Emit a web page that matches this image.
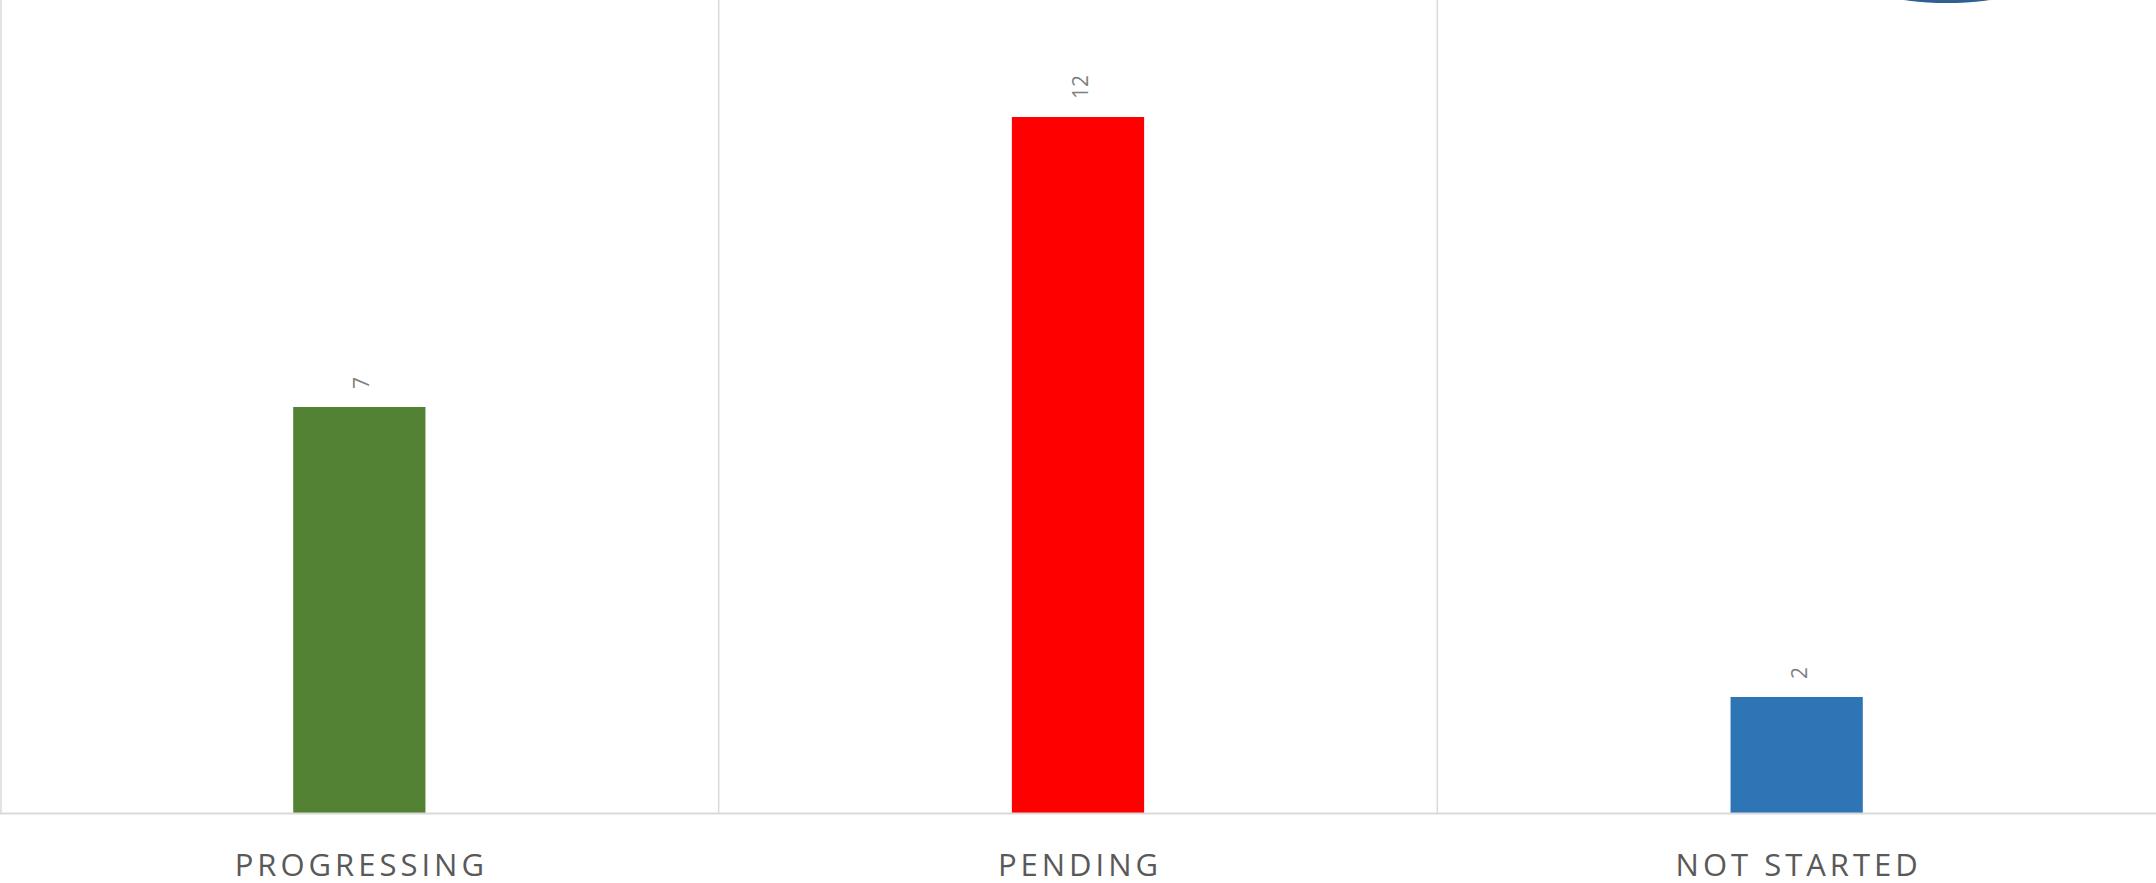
<!DOCTYPE html>
<html>
<head>
<meta charset="utf-8">
<script src="https://cdn.jsdelivr.net/npm/d3@7"></script>
<style>
  html, body { margin: 0; padding: 0; background: #fff; overflow: hidden; }
  .catText { font-family: "Open Sans", sans-serif; fill: #595959; }
  .valText { font-family: "Open Sans", sans-serif; fill: #7f7f7f; }
</style>
</head>
<body>
<div id="chart"></div>
<script>
// chart data
const categories = ["PROGRESSING", "PENDING", "NOT STARTED"]
const values = [7, 12, 2]
const barColors = ["#548235", "#ff0000", "#2e75b6"]
const yMax = 14

const width = 2156
const height = 883
const plotTop = 1
const plotBottom = 813

// creat canvas
const svg = d3
  .select("#chart")
  .append("svg")
  .attr("width", width)
  .attr("height", height)

const xScale = d3
  .scaleBand()
  .domain(categories)
  .range([0, width])
  .padding(0)

const yScale = d3
  .scaleLinear()
  .domain([0, yMax])
  .range([plotBottom, plotTop])

const barWidth = xScale.bandwidth() * 0.184

// leftover shape at the top right
const grad = svg.append("defs").append("linearGradient")
  .attr("id", "blob")
  .attr("x1", 0).attr("x2", 1)
grad.append("stop").attr("offset", "0%").attr("stop-color", "#9db4cf")
grad.append("stop").attr("offset", "30%").attr("stop-color", "#2f5f93")
grad.append("stop").attr("offset", "70%").attr("stop-color", "#2f5f93")
grad.append("stop").attr("offset", "100%").attr("stop-color", "#9db4cf")
svg.append("ellipse")
  .attr("cx", 1947)
  .attr("cy", -27)
  .attr("rx", 100)
  .attr("ry", 30)
  .attr("fill", "url(#blob)")

// vertical category separators
svg.append("g")
  .selectAll("line")
  .data(categories)
  .enter()
  .append("line")
  .attr("x1", function(d) { return Math.max(1, xScale(d)) })
  .attr("x2", function(d) { return Math.max(1, xScale(d)) })
  .attr("y1", 0)
  .attr("y2", plotBottom)
  .attr("stroke", "#d9d9d9")
  .attr("stroke-width", 1.5)

// bars
svg.append("g")
  .selectAll("rect")
  .data(values)
  .enter()
  .append("rect")
  .attr("x", function(d, i) {
    return xScale(categories[i]) + (xScale.bandwidth() - barWidth) / 2
  })
  .attr("y", function(d) { return yScale(d) })
  .attr("width", barWidth)
  .attr("height", function(d) { return yScale(0) - yScale(d) })
  .attr("fill", function(d, i) { return barColors[i] })

// bottom axis line
svg.append("line")
  .attr("x1", 0)
  .attr("x2", width)
  .attr("y1", yScale(0) + 0.5)
  .attr("y2", yScale(0) + 0.5)
  .attr("stroke", "#d9d9d9")
  .attr("stroke-width", 2)

// value labels, rotated
svg.append("g")
  .selectAll("text")
  .data(values)
  .enter()
  .append("text")
  .attr("class", "valText")
  .attr("font-size", 21)
  .attr("dominant-baseline", "central")
  .attr("transform", function(d, i) {
    const cx = xScale(categories[i]) + xScale.bandwidth() / 2 + 2
    const cy = yScale(d) - 18
    return "translate(" + cx + "," + cy + ")rotate(-90)"
  })
  .text(function(d) { return d })

// category labels
svg.append("g")
  .selectAll("text")
  .data(categories)
  .enter()
  .append("text")
  .attr("class", "catText")
  .attr("font-size", 31)
  .attr("letter-spacing", "4px")
  .attr("text-anchor", "middle")
  .attr("x", function(d) { return xScale(d) + xScale.bandwidth() / 2 + 2 })
  .attr("y", 876)
  .text(function(d) { return d })
</script>
</body>
</html>
